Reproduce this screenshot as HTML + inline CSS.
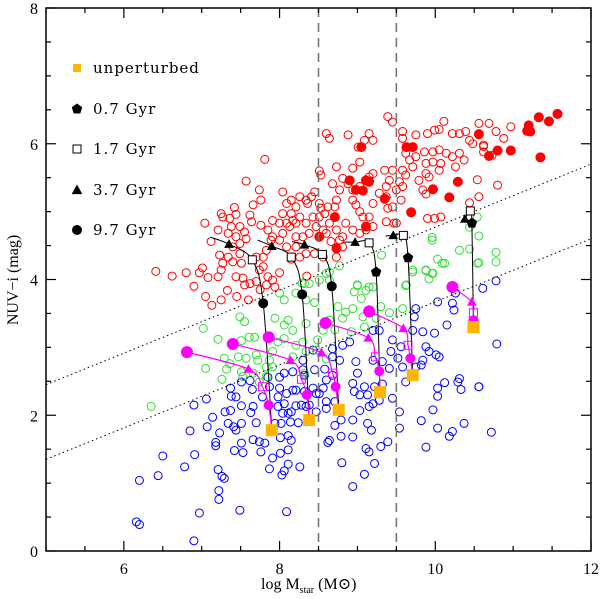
<!DOCTYPE html>
<html><head><meta charset="utf-8">
<style>
html,body{margin:0;padding:0;background:#fff;}
svg{display:block;}
text{font-family:"Liberation Serif","DejaVu Serif",serif;}
.leg{font-family:"DejaVu Serif","Liberation Serif",serif;font-size:15px;letter-spacing:1px;}
</style></head>
<body>
<svg id="chart" width="600" height="599" xmlns="http://www.w3.org/2000/svg"></svg>
<script>
// ---- data ----
const xTicks=[6,8,10,12];
const yTicks=[0,2,4,6,8];
const dashedX=[8.5,9.5];
const dottedLines=[[5,2.45,12,5.7],[5,1.35,12,4.6]];
const blueX=[6.16,6.20,6.20,6.44,6.50,6.78,6.91,6.90,6.97,6.85,6.90,7.06,7.14,7.07,7.23,7.18,7.18,7.21,7.26,7.29,7.22,7.22,7.49,7.30,7.37,7.38,7.44,7.37,7.34,7.41,7.44,7.51,7.51,7.42,7.53,7.51,7.66,7.63,7.70,7.66,7.74,7.76,7.81,7.87,7.91,8.01,8.11,8.01,8.11,8.15,8.03,8.06,8.11,8.26,8.09,7.94,8.02,8.14,8.24,8.04,8.11,8.15,7.98,8.06,8.21,8.28,8.34,8.17,8.09,7.98,8.00,7.87,7.65,7.78,7.62,7.51,7.85,8.00,8.06,8.17,8.30,8.32,8.45,8.30,8.43,8.58,8.60,8.56,8.47,8.60,8.60,8.71,8.68,8.68,8.68,8.77,8.81,8.90,8.98,9.00,8.94,8.96,9.03,9.09,9.13,9.22,9.20,9.20,9.28,9.32,9.41,9.45,9.43,9.52,9.56,9.58,9.62,9.71,9.73,9.75,9.84,9.88,9.92,10.01,10.05,9.99,10.03,10.22,10.24,10.26,10.61,10.31,10.33,10.56,10.12,10.03,10.03,9.97,9.82,9.88,10.03,10.18,10.22,10.37,9.82,9.84,9.75,9.54,9.54,9.45,9.39,9.30,9.22,9.15,9.09,8.94,8.80,8.79,8.71,8.79,8.94,8.94,9.11,9.13,9.18,9.28,9.32,9.03,9.15,9.20,8.47,8.51,8.64,8.62,8.38,8.32,8.21,8.43,10.78,10.79,10.15,10.29,10.56,10.72];
const blueY=[0.43,0.39,1.04,1.11,1.40,1.24,1.42,0.15,0.56,1.77,2.15,2.24,1.97,1.83,1.74,1.60,1.55,1.20,1.10,1.07,0.89,0.76,0.60,2.05,2.07,2.28,2.27,2.40,1.88,1.83,1.78,1.88,1.59,1.48,1.45,2.14,2.13,2.04,1.89,1.64,1.61,1.46,1.59,1.21,1.37,1.44,1.49,1.67,1.70,1.63,1.12,1.18,1.28,1.24,0.58,1.88,1.88,1.90,1.89,2.03,2.03,2.05,2.13,2.17,2.14,2.15,2.13,2.37,2.32,2.27,2.40,2.42,2.38,2.27,2.51,2.49,2.56,2.56,2.62,2.64,2.67,2.59,2.67,2.81,2.96,2.68,2.52,2.40,2.32,2.20,2.10,2.20,2.59,2.98,2.86,2.81,3.03,3.08,2.79,2.62,2.47,2.35,2.30,2.42,2.30,2.42,2.81,3.25,3.25,2.79,2.69,3.11,2.94,2.84,3.01,2.71,2.49,3.25,3.45,3.57,3.23,3.01,2.94,2.89,2.86,3.21,3.67,3.65,3.55,3.80,3.87,2.54,2.38,2.42,2.48,2.40,2.28,2.08,1.92,1.53,1.81,1.69,1.76,1.88,2.74,2.81,2.71,2.05,1.81,2.25,1.61,1.54,1.29,1.46,1.13,0.95,1.30,1.69,1.85,1.93,1.93,1.68,1.51,1.88,1.78,2.22,2.46,2.07,2.13,2.17,2.05,2.32,1.63,1.60,2.15,2.35,2.37,2.40,3.98,3.05,3.33,2.49,2.42,1.75];
const greenX=[6.35,7.02,7.21,7.05,7.29,7.32,7.26,7.49,7.55,7.51,7.61,7.68,7.70,7.72,7.57,7.47,7.51,7.66,7.83,7.87,7.91,7.98,8.06,8.21,8.30,8.34,8.17,8.06,7.94,8.11,8.06,8.00,8.21,8.32,8.38,8.45,8.34,8.34,8.49,8.56,8.71,8.64,8.81,8.85,8.96,9.00,9.05,9.20,9.11,8.94,9.07,9.30,9.41,9.58,9.62,9.71,9.88,9.97,10.12,8.60,8.64,8.77,10.56,8.92,9.09,9.24,8.32,8.17,8.47,8.75,7.74,7.83,7.91,8.60,7.36,7.53,9.31,9.96,9.96,10.31,10.56,10.78,10.54,10.03,10.09,9.88,9.96,9.92,9.71,10.54,10.44,8.64,8.51,9.00,9.15,9.63,8.29,10.44,10.78];
const greenY=[2.13,3.28,3.12,2.69,2.84,2.68,2.53,3.45,3.38,3.10,3.15,3.15,2.89,2.81,2.84,2.86,2.64,2.62,2.71,2.81,2.94,3.08,3.13,3.03,3.08,2.94,3.25,3.33,3.43,3.40,3.70,3.80,3.80,3.94,3.94,3.66,3.70,3.35,3.11,3.25,3.26,3.40,3.43,3.52,3.82,3.91,3.72,3.89,3.84,3.57,3.45,3.60,3.51,3.57,3.91,4.11,4.13,4.09,4.24,4.09,3.99,4.20,4.25,3.23,3.30,3.43,2.62,2.86,2.96,3.60,2.49,2.57,2.71,2.83,2.76,2.57,4.36,4.62,4.58,4.43,4.64,4.40,4.24,4.30,4.24,4.14,4.09,4.01,4.14,4.92,4.77,4.11,3.99,3.92,3.89,3.92,3.95,4.45,4.26];
const redX=[6.80,6.97,7.08,7.21,7.25,7.27,7.23,7.12,7.21,7.04,7.25,7.27,7.36,7.44,7.42,7.57,7.81,7.74,7.76,7.66,7.62,7.64,7.49,7.38,7.34,7.44,7.55,7.57,7.49,7.40,7.34,7.40,7.49,7.51,7.44,7.53,7.62,7.70,7.74,7.79,7.85,7.91,7.94,7.83,7.70,7.79,7.83,7.89,7.85,7.76,7.91,8.00,8.04,8.09,8.04,8.15,8.21,8.26,8.34,8.36,8.41,8.45,8.51,8.53,8.58,8.62,8.71,8.73,8.77,8.81,8.88,8.94,8.94,8.98,9.03,9.07,9.15,9.20,9.28,9.37,9.39,9.45,9.37,9.41,9.35,9.45,9.54,9.58,9.50,9.56,9.47,9.37,9.20,9.11,9.03,8.94,8.85,8.81,8.73,8.64,8.56,8.47,8.38,8.30,8.21,8.13,8.17,8.26,8.34,8.43,8.51,8.60,8.66,8.77,8.81,8.73,8.56,8.45,8.34,8.26,8.21,8.09,8.00,7.91,8.04,8.09,8.15,8.21,9.03,9.15,9.20,9.03,8.94,8.73,8.53,8.51,8.68,8.60,8.64,8.88,9.01,9.09,9.15,9.20,9.39,9.45,9.58,9.58,9.75,9.90,9.99,10.05,10.11,9.62,9.67,9.75,9.86,9.97,10.05,10.14,10.22,10.31,10.37,10.05,9.88,9.79,9.84,9.92,9.58,9.71,9.62,9.88,9.97,10.07,10.22,10.31,10.39,10.44,10.56,10.56,10.69,10.78,10.88,10.97,10.62,10.62,10.73,10.29,10.54,10.80,10.56,10.44,9.88,9.90,9.99,10.07,10.62,10.48,10.26,9.50,7.13,7.33,7.55,7.01,6.41,6.62,6.90,7.05,7.25,7.45,7.60,7.75,8.00,8.15,8.35];
const redY=[4.10,4.10,4.03,4.04,4.14,4.24,4.36,4.56,4.73,4.83,4.97,4.92,4.90,4.96,5.06,5.45,5.77,5.32,5.17,5.10,4.95,4.85,4.78,4.78,4.68,4.63,4.70,4.60,4.53,4.48,4.33,4.26,4.38,4.24,4.04,4.02,3.94,3.97,4.14,4.19,4.04,3.99,3.89,3.92,4.33,4.33,4.43,4.58,4.73,4.80,4.87,4.83,4.97,5.12,5.29,5.17,5.07,5.22,5.17,5.12,5.22,5.29,5.12,5.05,4.97,5.07,5.07,5.17,5.32,5.49,5.41,5.32,5.17,5.10,5.00,4.92,4.92,5.12,5.27,5.22,5.05,5.07,5.37,5.46,5.61,5.61,5.44,5.37,5.32,5.17,4.83,4.85,4.78,4.73,4.68,4.73,4.83,4.63,4.73,4.83,4.73,4.78,4.68,4.63,4.63,4.78,4.87,4.92,4.83,4.92,4.92,4.68,4.56,4.58,4.48,4.33,4.33,4.38,4.38,4.33,4.48,4.48,4.58,4.63,4.68,4.83,4.97,4.83,5.37,5.51,5.56,5.73,5.64,5.66,5.54,5.60,5.41,6.15,6.08,6.13,5.95,6.05,6.15,6.05,6.40,6.32,6.18,6.08,6.13,6.15,6.20,6.21,6.33,5.86,5.76,5.81,5.88,5.88,5.91,5.86,5.81,5.86,5.76,5.61,5.56,5.46,5.32,5.51,5.61,5.66,5.54,5.71,5.73,5.71,6.15,6.15,6.18,6.05,6.15,6.30,6.30,6.18,6.08,6.25,5.98,5.88,5.83,5.44,5.47,5.39,5.22,5.13,5.26,4.90,4.90,4.92,5.96,6.00,5.66,4.83,3.62,3.84,3.92,4.17,4.12,4.05,3.90,3.75,3.70,3.75,3.70,3.85,4.10,4.30,4.05];
const redFilledX=[9.05,9.63,9.71,10.80,10.97,10.69,10.56,11.20,11.18,11.22,11.33,11.46,11.57,11.35,9.97,10.18,10.29,9.69,9.11,8.73,8.51,8.71,8.98,9.07,9.11,9.15,9.35,8.90];
const redFilledY=[5.95,5.95,5.95,5.90,5.90,5.82,6.14,6.27,6.19,6.18,6.39,6.33,6.44,5.80,5.33,5.21,5.44,4.99,4.78,4.46,4.63,4.92,5.32,5.31,5.46,5.44,5.19,5.46];
// black tracks: start, 3.7 Gyr (triangle), 1.7 Gyr (square), marker, end (unperturbed)
const blackStartX=[7.12,7.72,8.16,8.82,9.36,10.36];
const blackStartY=[4.62,4.58,4.56,4.55,4.64,4.86];
const triX=[7.35,7.90,8.32,8.97,9.46,10.38];
const triY=[4.52,4.49,4.51,4.55,4.65,4.89];
const sqX=[7.65,8.15,8.55,9.15,9.59,10.45];
const sqY=[4.29,4.33,4.37,4.54,4.65,5.01];
const markX=[7.79,8.29,8.67,9.24,9.65,10.47];
const markY=[3.65,3.78,3.90,4.11,4.32,4.83];
const markType=["circle","circle","circle","pentagon","pentagon","pentagon"];
const unpX=[7.90,8.38,8.76,9.29,9.71,10.49];
const unpY=[1.78,1.93,2.08,2.34,2.59,3.30];
// magenta tracks
const magStartX=[6.81,7.40,7.86,8.59,9.15,10.22];
const magStartY=[2.93,3.05,3.15,3.36,3.53,3.89];
const magTriX=[7.60,8.14,8.54,9.14,9.59,10.47];
const magTriY=[2.68,2.81,2.92,3.14,3.28,3.67];
const magSqX=[7.78,8.28,8.68,9.23,9.65,10.49];
const magSqY=[2.42,2.53,2.62,2.86,3.03,3.51];
const magDotX=[7.86,8.35,8.72,9.28,9.68,10.49];
const magDotY=[2.15,2.30,2.42,2.65,2.84,3.40];
const legendLabels=["unperturbed","0.7 Gyr","1.7 Gyr","3.7 Gyr","9.7 Gyr"];

// ---- scales ----
const L=46,R=591,T=8,B=551;
function sx(v){return L+(v-5)/7*(R-L);}
function sy(v){return B-(v-0)/8*(B-T);}
const NS="http://www.w3.org/2000/svg";
const svg=document.getElementById('chart');
function mk(tag,attrs,parent){const e=document.createElementNS(NS,tag);for(const k in attrs)e.setAttribute(k,attrs[k]);(parent||svg).appendChild(e);return e;}

const gPts=mk('g',{});



function circles(xs,ys,color,name,filled){
  const g=mk('g',{},gPts);
  
  
  for(let i=0;i<xs.length;i++){
    const c=mk('circle',{cx:sx(xs[i]),cy:sy(ys[i]),r:filled?4.5:4,fill:filled?color:'none',stroke:color,'stroke-width':1},g);
    
    
  }
}
circles(blueX,blueY,'#0000ff','blue-galaxies',false);
circles(greenX,greenY,'#33dd33','green-galaxies',false);
circles(redX,redY,'#ff0000','red-galaxies',false);
circles(redFilledX,redFilledY,'#ff0000','red-filled-galaxies',true);

// reference lines
dashedX.forEach(v=>{
  const l=mk('line',{x1:sx(v),x2:sx(v),y1:T,y2:B,stroke:'#777','stroke-width':1.6,'stroke-dasharray':'9,6'});
  
  
});
dottedLines.forEach(d=>{
  const l=mk('line',{x1:sx(d[0]),y1:sy(d[1]),x2:sx(d[2]),y2:sy(d[3]),stroke:'#000','stroke-width':1,'stroke-dasharray':'1.5,3'});
  
  
});

function spline(pts){
  let d='M'+pts[0][0]+','+pts[0][1];
  for(let i=0;i<pts.length-1;i++){
    const p0=pts[Math.max(0,i-1)],p1=pts[i],p2=pts[i+1],p3=pts[Math.min(pts.length-1,i+2)];
    const c1=[p1[0]+(p2[0]-p0[0])/6,p1[1]+(p2[1]-p0[1])/6];
    const c2=[p2[0]-(p3[0]-p1[0])/6,p2[1]-(p3[1]-p1[1])/6];
    d+=' C'+c1[0]+','+c1[1]+' '+c2[0]+','+c2[1]+' '+p2[0]+','+p2[1];
  }
  return d;
}
function tri(x,y,s,fill,stroke){return mk('polygon',{points:`${x},${y-s} ${x-s},${y+s*0.8} ${x+s},${y+s*0.8}`,fill:fill,stroke:stroke,'stroke-width':1});}
function pent(x,y,s,fill){let p=[];for(let k=0;k<5;k++){const a=-Math.PI/2+k*2*Math.PI/5;p.push((x+s*Math.cos(a))+','+(y+s*Math.sin(a)));}return mk('polygon',{points:p.join(' '),fill:fill});}

const gTr=mk('g',{});


for(let i=0;i<unpX.length;i++){
  // black track
  const bp=[[sx(blackStartX[i]),sy(blackStartY[i])],[sx(triX[i]),sy(triY[i])],[sx(sqX[i]),sy(sqY[i])],[sx(markX[i]),sy(markY[i])],[sx(unpX[i]),sy(unpY[i])]];
  const pb=mk('path',{d:spline(bp),fill:'none',stroke:'#000','stroke-width':1},gTr);
  
  
  // magenta track
  const mp=[[sx(magStartX[i]),sy(magStartY[i])],[sx(magTriX[i]),sy(magTriY[i])],[sx(magSqX[i]),sy(magSqY[i])],[sx(magDotX[i]),sy(magDotY[i])],[sx(unpX[i]),sy(unpY[i])]];
  const pm=mk('path',{d:spline(mp),fill:'none',stroke:'#ff00ff','stroke-width':1.2},gTr);
  
  
}
for(let i=0;i<unpX.length;i++){
  let e;
  e=tri(sx(triX[i]),sy(triY[i]),4,'#000','#000');gTr.appendChild(e);
  
  
  e=mk('rect',{x:sx(sqX[i])-4,y:sy(sqY[i])-4,width:8,height:8,fill:'#fff',stroke:'#000','stroke-width':1},gTr);
  
  
  if(markType[i]==='circle'){e=mk('circle',{cx:sx(markX[i]),cy:sy(markY[i]),r:5,fill:'#000'},gTr);}
  else{e=pent(sx(markX[i]),sy(markY[i]),5.5,'#000');gTr.appendChild(e);}
  
  
  e=mk('circle',{cx:sx(magStartX[i]),cy:sy(magStartY[i]),r:6,fill:'#ff00ff'},gTr);
  
  
  e=tri(sx(magTriX[i]),sy(magTriY[i]),4,'#ff00ff','#ff00ff');gTr.appendChild(e);
  
  
  e=mk('rect',{x:sx(magSqX[i])-4,y:sy(magSqY[i])-4,width:8,height:8,fill:'none',stroke:'#ff00ff','stroke-width':1},gTr);
  
  
  e=mk('circle',{cx:sx(magDotX[i]),cy:sy(magDotY[i]),r:5,fill:'#ff00ff'},gTr);
  
  
  e=mk('rect',{x:sx(unpX[i])-6,y:sy(unpY[i])-6,width:12,height:12,fill:'#ffb400'},gTr);
  
  
}

// axes frame & ticks
const fr=mk('rect',{x:L,y:T,width:R-L,height:B-T,fill:'none',stroke:'#000','stroke-width':1.5});


const gT=mk('g',{stroke:'#000','stroke-width':1.2});


for(let v=5;v<=12.001;v+=0.5){
  const len=(Math.abs(v-Math.round(v))<0.01&&Math.round(v)%2===0)?10:5;
  mk('line',{x1:sx(v),x2:sx(v),y1:B,y2:B-len},gT);
  mk('line',{x1:sx(v),x2:sx(v),y1:T,y2:T+len},gT);
}
for(let v=0;v<=8.001;v+=0.5){
  const len=(Math.abs(v-Math.round(v))<0.01&&Math.round(v)%2===0)?10:5;
  mk('line',{x1:L,x2:L+len,y1:sy(v),y2:sy(v)},gT);
  mk('line',{x1:R,x2:R-len,y1:sy(v),y2:sy(v)},gT);
}
xTicks.forEach(v=>{
  const t=mk('text',{x:sx(v),y:574,'text-anchor':'middle','font-size':16});
  t.textContent=v;
  
  
});
yTicks.forEach(v=>{
  const t=mk('text',{x:38,y:sy(v)+6,'text-anchor':'end','font-size':16});
  t.textContent=v;
  
  
});

// legend
const gL=mk('g',{});


const legY=[68,109,149,190,230];
legendLabels.forEach((lab,i)=>{
  const y=legY[i],x=77;let m;
  if(i===0)m=mk('rect',{x:x-4,y:y-4,width:8,height:8,fill:'#ffb400'},gL);
  else if(i===1){m=pent(x,y,5.5,'#000');gL.appendChild(m);}
  else if(i===2)m=mk('rect',{x:x-4,y:y-4,width:8,height:8,fill:'#fff',stroke:'#000','stroke-width':1},gL);
  else if(i===3){m=tri(x,y,4.5,'#000','#000');gL.appendChild(m);}
  else m=mk('circle',{cx:x,cy:y,r:5,fill:'#000'},gL);
  
  
  const t=mk('text',{x:93,y:y+5,class:'leg'},gL);
  t.textContent=lab;
  
  
});

// axis titles
const xt=mk('text',{x:261,y:589,'font-size':16});


xt.innerHTML='log M<tspan font-size="10" dy="4">star</tspan><tspan dy="-4">   (M</tspan><tspan>⊙</tspan><tspan>)</tspan>';
xt.setAttribute('xml:space','preserve');
const yt=mk('text',{x:0,y:0,'font-size':16,'text-anchor':'middle',transform:'translate(18,280) rotate(-90)'});
yt.textContent='NUV−i (mag)';


</script>
</body></html>
